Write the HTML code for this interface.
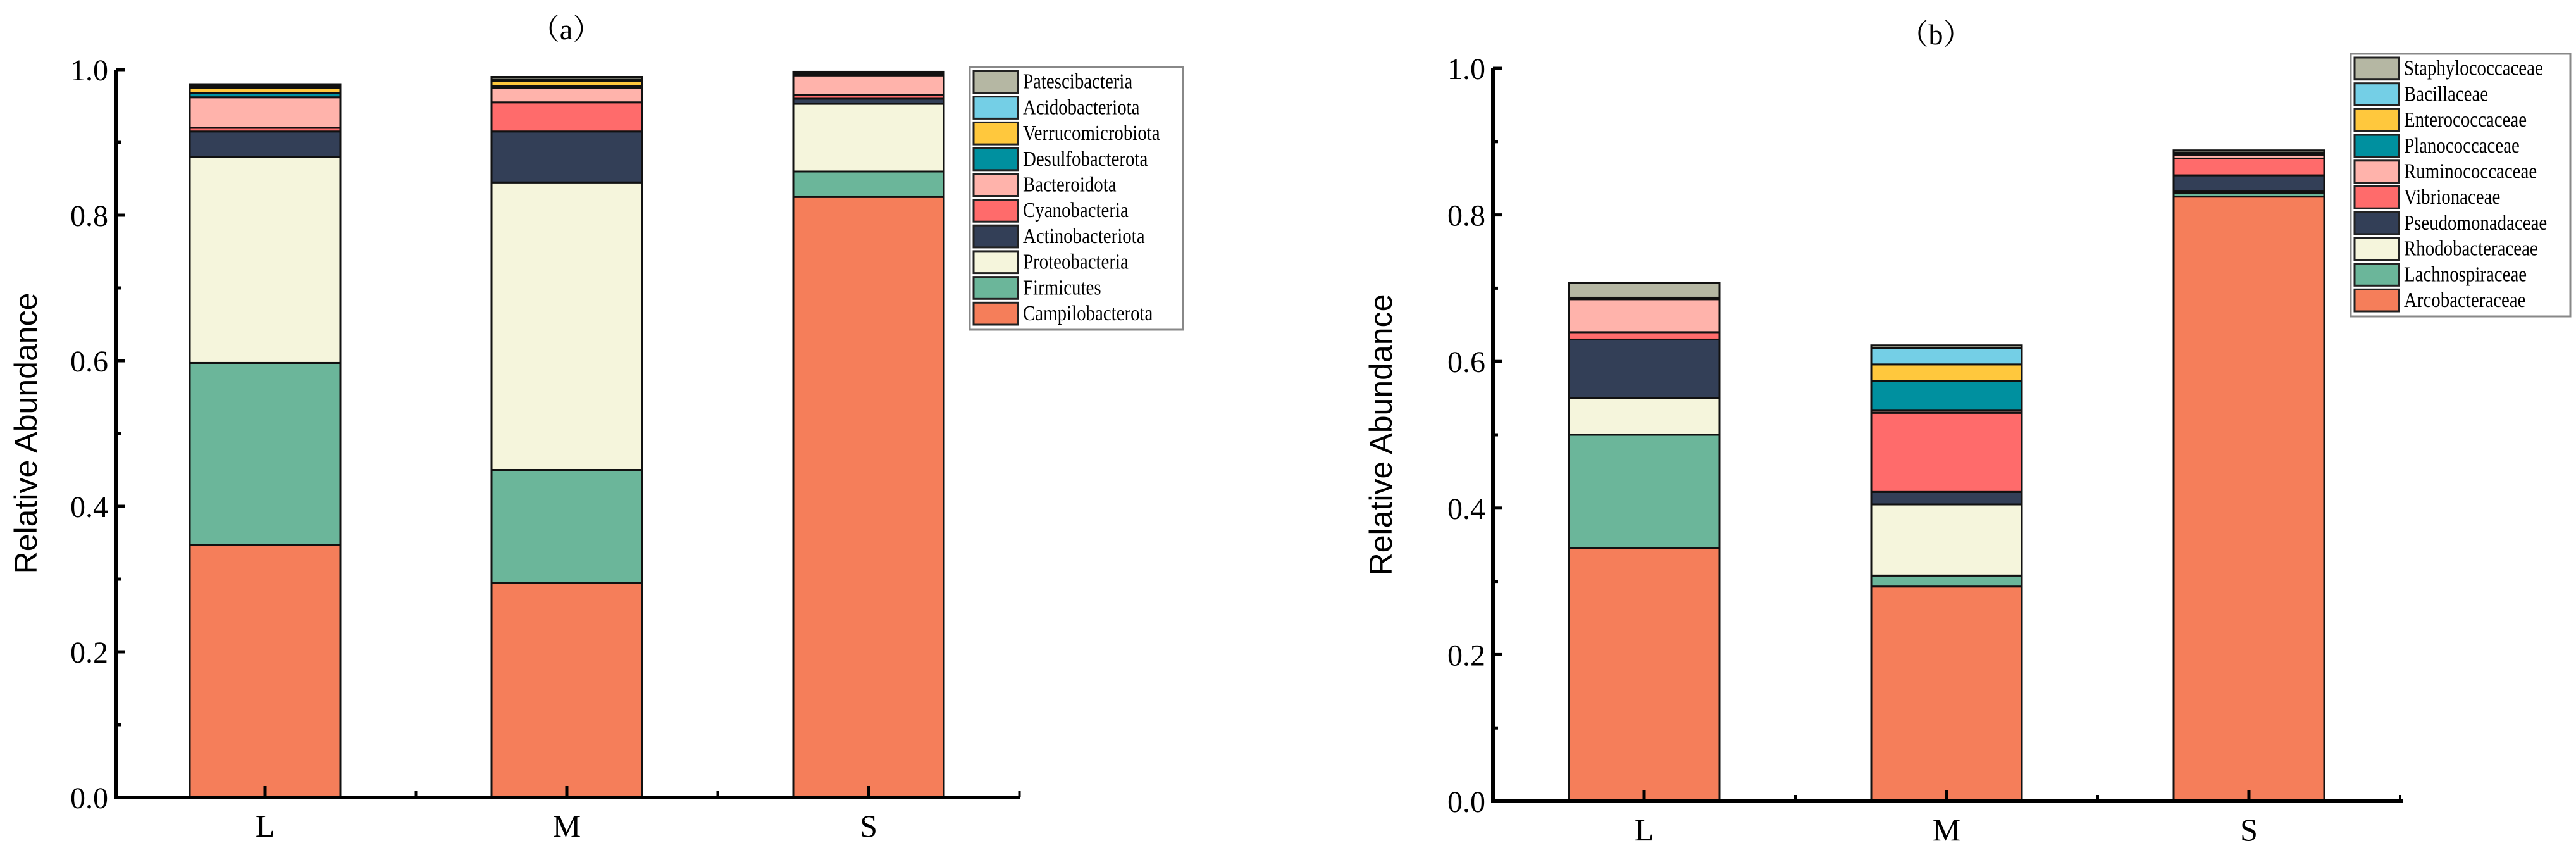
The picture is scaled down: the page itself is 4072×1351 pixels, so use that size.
<!DOCTYPE html>
<html><head><meta charset="utf-8"><style>
html,body{margin:0;padding:0;background:#fff;overflow:hidden;}
svg{display:block;}
</style></head><body>
<svg id="svg" width="4072" height="1351" viewBox="0 0 4072 1351" xmlns="http://www.w3.org/2000/svg"></svg>
<script>
const categories = ['L','M','S'];
const yTicks = ['0.0','0.2','0.4','0.6','0.8','1.0'];
// Panel a (phylum)
const namesA = ['Campilobacterota','Firmicutes','Proteobacteria','Actinobacteriota','Cyanobacteria','Bacteroidota','Desulfobacterota','Verrucomicrobiota','Acidobacteriota','Patescibacteria'];
const valsA_L = [0.347,0.25,0.283,0.035,0.005,0.042,0.006,0.007,0.002,0.003];
const valsA_M = [0.295,0.155,0.395,0.07,0.04,0.02,0.002,0.007,0.002,0.004];
const valsA_S = [0.825,0.035,0.093,0.007,0.005,0.027,0.001,0.001,0.001,0.002];
// Panel b (family)
const namesB = ['Arcobacteraceae','Lachnospiraceae','Rhodobacteraceae','Pseudomonadaceae','Vibrionaceae','Ruminococcaceae','Planococcaceae','Enterococcaceae','Bacillaceae','Staphylococcaceae'];
const valsB_L = [0.345,0.155,0.05,0.08,0.01,0.045,0.0,0.0,0.002,0.02];
const valsB_M = [0.293,0.015,0.097,0.017,0.108,0.003,0.04,0.023,0.022,0.004];
const valsB_S = [0.825,0.005,0.002,0.022,0.023,0.005,0.001,0.001,0.001,0.003];
const colors = ['#F57E5A','#6BB69A','#F5F5DC','#333F57','#FF6B6B','#FFB3AB','#00909F','#FFC83D','#74CFE6','#B5B7A3'];

const NS='http://www.w3.org/2000/svg';
const svg=document.getElementById('svg');
function mk(tag,attrs,parent){const e=document.createElementNS(NS,tag);for(const k in attrs)e.setAttribute(k,attrs[k]);(parent||svg).appendChild(e);return e;}

function panel(cfg){
  const g=mk('g',{});
  
  
  const y=v=>cfg.y0-(cfg.y0-cfg.y1)*v;
  const x=i=>cfg.bx0+i*cfg.step;
  const series=[cfg.L,cfg.M,cfg.S];
  series.forEach((vals,ci)=>{
    let acc=0;
    vals.forEach((v,si)=>{
      const top=y(acc+v), bot=y(acc);
      const r=mk('rect',{x:x(ci),y:top,width:cfg.bw,height:Math.max(0,bot-top),fill:colors[si],stroke:'#111','stroke-width':3},g);
      
      
      acc+=v;
    });
  });
  const ax=mk('path',{d:`M${cfg.ax} ${y(1)} L${cfg.ax} ${cfg.y0} L${cfg.axEnd} ${cfg.y0}`,stroke:'#000','stroke-width':6,fill:'none'},g);
   
  for(let k=0;k<=10;k++){
    const yy=y(k/10), len=(k%2===0)?14:8;
    mk('line',{x1:cfg.ax,y1:yy,x2:cfg.ax+len,y2:yy,stroke:'#000','stroke-width':5},g);
  }
  yTicks.forEach((t,k)=>{
    const tx=mk('text',{x:cfg.ax-12,y:y(k*0.2)+17,'text-anchor':'end','font-family':'Liberation Serif, serif','font-size':48},g);
    tx.textContent=t;
     
  });
  categories.forEach((c,ci)=>{
    const cx=x(ci)+cfg.bw/2;
    mk('line',{x1:cx,y1:cfg.y0,x2:cx,y2:cfg.y0-18,stroke:'#000','stroke-width':5},g);
    const mx=cx+cfg.step/2;mk('line',{x1:mx,y1:cfg.y0,x2:mx,y2:cfg.y0-10,stroke:'#000','stroke-width':4},g);
    const t=mk('text',{x:cx,y:cfg.y0+62,'text-anchor':'middle','font-family':'Liberation Serif, serif','font-size':50},g);
    t.textContent=c;
     
  });
  const yl=mk('text',{x:0,y:0,'text-anchor':'middle','font-family':'Liberation Sans, sans-serif','font-size':50,transform:`translate(${cfg.ylx},${(y(0)+y(1))/2}) rotate(-90)`},g);
  yl.textContent='Relative Abundance';
   
  const ti=mk('text',{x:cfg.tx,y:cfg.ty,'text-anchor':'middle','font-family':'Liberation Serif, Noto Serif CJK SC, serif','font-size':46},g);
  ti.textContent=cfg.title;
   
  const lg=mk('g',{},g);
   
  mk('rect',{x:cfg.lx,y:cfg.ly,width:cfg.lw,height:cfg.lh,fill:'#fff',stroke:'#888','stroke-width':3},lg);
  for(let i=0;i<10;i++){
    const si=9-i, ey=cfg.ly+6+i*cfg.lstep;
    const sw=mk('rect',{x:cfg.lx+6,y:ey,width:70,height:cfg.lstep-6,fill:colors[si],stroke:'#222','stroke-width':3},lg);
     
    const tx0=cfg.lx+84;
    const t=mk('text',{x:tx0,y:ey+cfg.lstep*0.68,'font-family':'Liberation Serif, serif','font-size':34,transform:`translate(${tx0},0) scale(0.85,1) translate(${-tx0},0)`},lg);
    t.textContent=cfg.names[si];
     
  }
}
panel({id:'a',names:namesA,L:valsA_L,M:valsA_M,S:valsA_S,y0:1260,y1:110,ax:183,axEnd:1612,bx0:300,bw:238,step:477,ylx:58,tx:895,ty:62,title:'（a）',lx:1533,ly:106,lw:337,lh:415,lstep:40.7});
panel({id:'b',names:namesB,L:valsB_L,M:valsB_M,S:valsB_S,y0:1266,y1:108,ax:2360,axEnd:3798,bx0:2480,bw:238,step:478,ylx:2200,tx:3060,ty:70,title:'（b）',lx:3716,ly:85,lw:347,lh:415,lstep:40.7});
</script>
</body></html>
